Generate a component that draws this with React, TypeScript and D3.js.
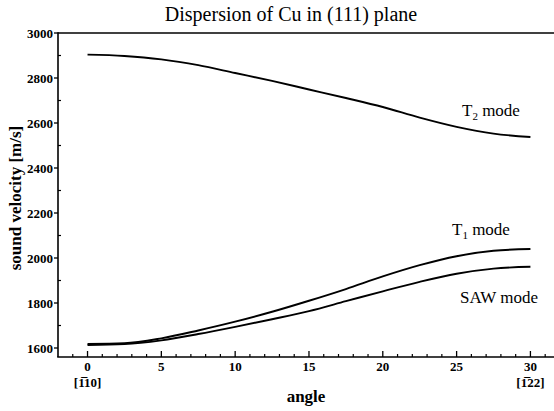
import React from "react";
import * as d3 from "d3";

const angles = [0, 2.5, 5, 7.5, 10, 12.5, 15, 17.5, 20, 22.5, 25, 27.5, 30];
const t2Mode = [2904, 2898, 2883, 2857, 2822, 2787, 2749, 2711, 2671, 2624, 2583, 2553, 2538];
const t1Mode = [1618, 1621, 1643, 1678, 1717, 1761, 1810, 1862, 1918, 1968, 2008, 2032, 2040];
const sawMode = [1613, 1617, 1634, 1662, 1694, 1728, 1764, 1808, 1852, 1894, 1930, 1953, 1961];

const yTickValues = [1600, 1800, 2000, 2200, 2400, 2600, 2800, 3000];
const xTickValues = [0, 5, 10, 15, 20, 25, 30];

const FONT = '"Liberation Serif", "DejaVu Serif", serif';

export default function App() {
  const W = 554;
  const H = 411;
  const x = d3.scaleLinear().domain([-2, 31.8]).range([58, 557]);
  const y = d3.scaleLinear().domain([1560, 3000]).range([357, 33]);
  const line = d3
    .line<number>()
    .x((_, i) => x(angles[i]))
    .y((d) => y(d))
    .curve(d3.curveMonotoneX);

  const xMinor = d3.range(-1, 32, 1).filter((v) => v % 5 !== 0);
  const yMinor = d3.range(1600, 3000, 100).filter((v) => v % 200 !== 0);
  const ts = { fontFamily: FONT } as React.CSSProperties;

  return (
    <svg
      width={W}
      height={H}
      style={{ position: "absolute", left: 0, top: 0, background: "#fff", fontFamily: FONT }}
    >
      <rect width={W} height={H} fill="#fff" />
      <text x={291} y={21} textAnchor="middle" fontSize={20} fill="#000" style={ts}>
        Dispersion of Cu in (111) plane
      </text>

      {/* frame */}
      <line x1={58} x2={554} y1={33} y2={33} stroke="#000" strokeWidth={1.6} />
      <line x1={58} x2={58} y1={32.2} y2={357} stroke="#000" strokeWidth={1.6} />
      <line x1={57.2} x2={554} y1={357} y2={357} stroke="#000" strokeWidth={1.6} />

      {/* y ticks */}
      {yTickValues.map((v) => (
        <g key={"y" + v}>
          <line x1={54} x2={58} y1={y(v)} y2={y(v)} stroke="#000" strokeWidth={1.3} />
          <text
            x={53}
            y={y(v)}
            dy="0.35em"
            textAnchor="end"
            fontSize={13}
            fontWeight="bold"
            fill="#000"
            style={ts}
          >
            {v}
          </text>
        </g>
      ))}
      {yMinor.map((v) => (
        <line key={"ym" + v} x1={58} x2={61} y1={y(v)} y2={y(v)} stroke="#000" strokeWidth={1.2} />
      ))}

      {/* x ticks */}
      {xTickValues.map((v) => (
        <g key={"x" + v}>
          <line x1={x(v)} x2={x(v)} y1={357} y2={351} stroke="#000" strokeWidth={1.3} />
          <text x={x(v)} y={371} textAnchor="middle" fontSize={13} fontWeight="bold" fill="#000" style={ts}>
            {v}
          </text>
        </g>
      ))}
      {xMinor.map((v) => (
        <line key={"xm" + v} x1={x(v)} x2={x(v)} y1={357} y2={354} stroke="#000" strokeWidth={1.2} />
      ))}

      <text x={x(0)} y={387} textAnchor="middle" fontSize={13} fontWeight="bold" fill="#000" style={ts}>
        [{"1\u0305"}10]
      </text>
      <text x={x(30)} y={387} textAnchor="middle" fontSize={13} fontWeight="bold" fill="#000" style={ts}>
        [{"1\u0305"}22]
      </text>

      <text x={306} y={402} textAnchor="middle" fontSize={17} fontWeight="bold" fill="#000" style={ts}>
        angle
      </text>
      <text
        transform={`translate(21, 198) rotate(-90)`}
        textAnchor="middle"
        fontSize={17}
        fontWeight="bold"
        fill="#000"
        style={ts}
      >
        sound velocity [m/s]
      </text>

      {/* curves */}
      {[t2Mode, t1Mode, sawMode].map((s, i) => (
        <path key={"c" + i} d={line(s) || ""} fill="none" stroke="#000" strokeWidth={1.9} />
      ))}

      <text x={462} y={116} fontSize={17} fill="#000" style={ts}>
        T<tspan fontSize={11} dy={4}>2</tspan>
        <tspan dy={-4}> mode</tspan>
      </text>
      <text x={452} y={235} fontSize={17} fill="#000" style={ts}>
        T<tspan fontSize={11} dy={4}>1</tspan>
        <tspan dy={-4}> mode</tspan>
      </text>
      <text x={460} y={303} fontSize={17} fill="#000" style={ts}>
        SAW mode
      </text>
    </svg>
  );
}
